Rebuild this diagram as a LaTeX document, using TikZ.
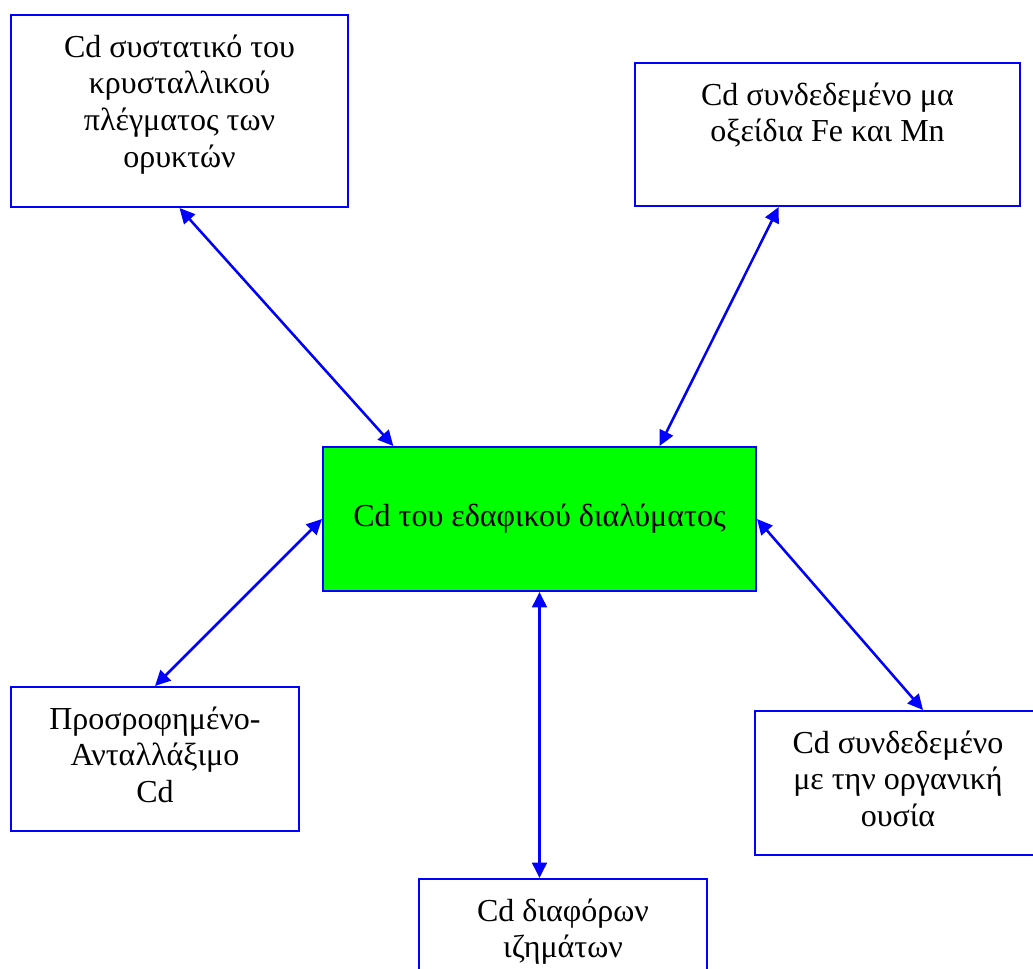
\documentclass[tikz,border=0pt]{standalone}
\usepackage{fontspec}
\setmainfont{Liberation Serif}
\usetikzlibrary{arrows.meta,calc}
\definecolor{boxblue}{RGB}{0,0,255}
\definecolor{solgreen}{RGB}{0,255,0}
\begin{document}
\begin{tikzpicture}[x=0.75pt,y=-0.75pt,
  box/.style={draw=boxblue,line width=1.5pt,fill=white,inner sep=0pt},
  txt/.style={anchor=north,inner sep=0pt,font=\fontsize{24}{27.6}\selectfont},
  link/.style={draw=boxblue,line width=1.9pt,{Triangle[length=11.5pt,width=11pt]}-{Triangle[length=11.5pt,width=11pt]}}
]
\useasboundingbox (0,0) rectangle (1033,969);
\clip (0,0) rectangle (1033,969);
% boxes
\node[box,minimum width=252.75pt,minimum height=144pt] (a) at (179.5,111) {};
\node[txt] (ta) at (179.5,31) {\begin{tabular}{c}Cd συστατικό του\\κρυσταλλικού\\πλέγματος των\\ορυκτών\end{tabular}};
\node[box,minimum width=288.75pt,minimum height=107.25pt] (b) at (827.5,134.5) {};
\node[txt] (tb) at (827.5,79) {\begin{tabular}{c}Cd συνδεδεμένο μα\\οξείδια Fe και Mn\end{tabular}};
\node[box,fill=solgreen,minimum width=324.75pt,minimum height=108pt,font=\fontsize{24}{27.6}\selectfont] (c) at (539.5,519) {Cd του εδαφικού διαλύματος};
\node[box,minimum width=216pt,minimum height=108pt] (d) at (155,759) {};
\node[txt] (td) at (155,703) {\begin{tabular}{c}Προσροφημένο-\\Ανταλλάξιμο\\Cd\end{tabular}};
\node[box,minimum width=214.5pt,minimum height=108pt] (e) at (898,783) {};
\node[txt] (te) at (898,727) {\begin{tabular}{c}Cd συνδεδεμένο\\με την οργανική\\ουσία\end{tabular}};
\node[box,minimum width=216pt,minimum height=108pt] (f) at (563,951) {};
\node[txt] (tf) at (563,895) {\begin{tabular}{c}Cd διαφόρων\\ιζημάτων\end{tabular}};
% connectors
\draw[link] (a.south) -- ($(c.north west)!0.164!(c.north east)$);
\draw[link] ($(b.south west)!0.374!(b.south east)$) -- ($(c.north west)!0.776!(c.north east)$);
\draw[link] (d.north) -- (c.west);
\draw[link] ($(e.north west)!0.587!(e.north east)$) -- (c.east);
\draw[link] (c.south) -- (c.south |- f.north);
\end{tikzpicture}
\end{document}
